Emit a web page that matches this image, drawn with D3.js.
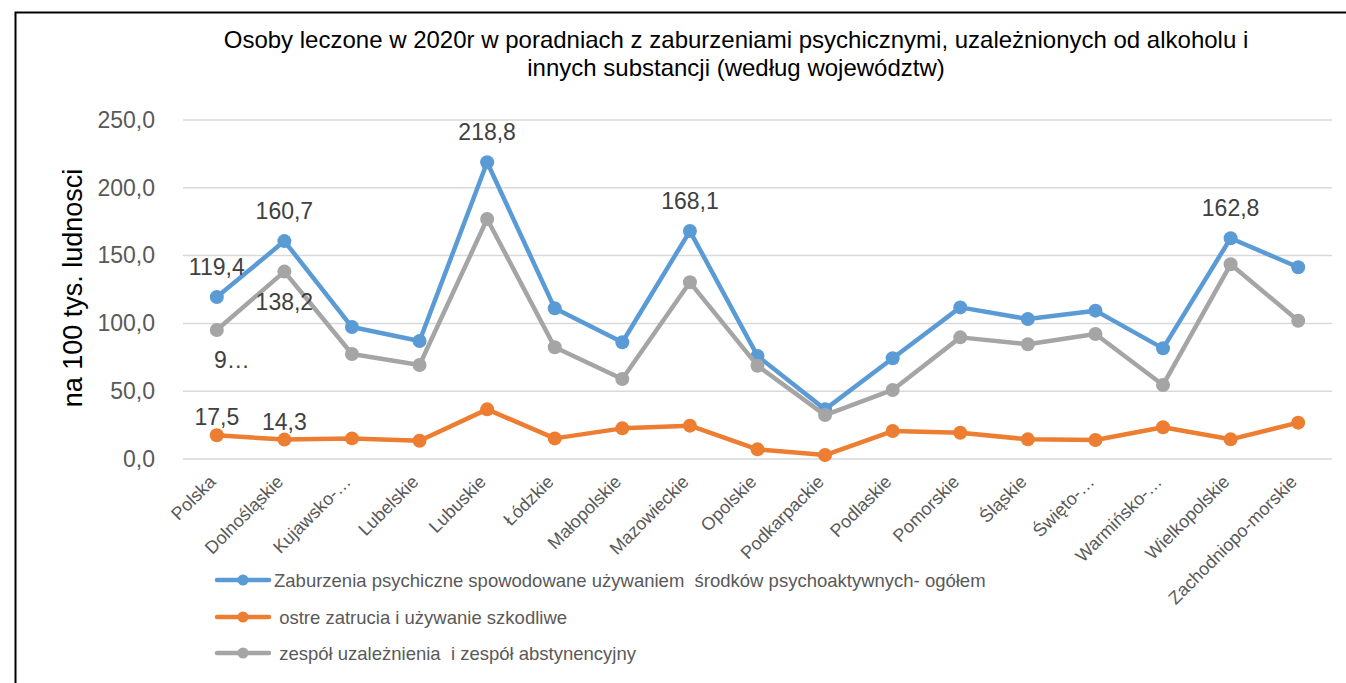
<!DOCTYPE html>
<html>
<head>
<meta charset="utf-8">
<script src="https://cdn.jsdelivr.net/npm/d3@7"></script>
<style>
  body { margin: 0; background: #fff; }
  svg { display: block; font-family: Arial, "Liberation Sans", sans-serif; }
</style>
</head>
<body>
<div class="container"></div>
<script>
const categories = ["Polska", "Dolnośląskie", "Kujawsko-…", "Lubelskie", "Lubuskie", "Łódzkie",
  "Małopolskie", "Mazowieckie", "Opolskie", "Podkarpackie", "Podlaskie", "Pomorskie",
  "Śląskie", "Święto-…", "Warmińsko-…", "Wielkopolskie", "Zachodniopo-morskie"];

const ogolem = [119.4, 160.7, 97.3, 87.0, 218.8, 111.1, 86.1, 168.1, 76.0, 36.6, 74.3, 111.8, 103.2, 109.4, 81.6, 162.8, 141.4];
const ostre = [17.5, 14.3, 15.2, 13.5, 36.6, 15.2, 22.6, 24.6, 7.1, 2.9, 20.6, 19.4, 14.5, 14.0, 23.4, 14.5, 26.8];
const zespol = [95.1, 138.2, 77.4, 69.3, 177.0, 82.4, 59.0, 130.3, 68.8, 32.4, 50.9, 89.7, 84.6, 92.2, 54.6, 143.6, 102.0];

const yTicks = [0, 50, 100, 150, 200, 250];

const seriesNames = [
  "Zaburzenia psychiczne spowodowane używaniem  środków psychoaktywnych- ogółem",
  " ostre zatrucia i używanie szkodliwe",
  " zespół uzależnienia  i zespół abstynencyjny"
];

// which points get a data label: [series index, category index, text, side]
const dataLabels = [
  [0, 0, "119,4", "up"], [0, 1, "160,7", "up"], [0, 4, "218,8", "up"],
  [0, 7, "168,1", "up"], [0, 15, "162,8", "up"],
  [2, 1, "138,2", "down"], [2, 0, "9…", "down"],
  [1, 0, "17,5", "up2"], [1, 1, "14,3", "up2"]
];

const colors = ["#5B9BD5", "#ED7D31", "#A5A5A5"];
const allSeries = [ogolem, ostre, zespol];
const w = 1346, h = 683;

const svg = d3.select(".container").append("svg")
  .attr("width", w).attr("height", h);

svg.append("rect").attr("width", w).attr("height", h).attr("fill", "#fff");

// chart border (top & left visible)
svg.append("path")
  .attr("d", "M15.5," + h + "V12.5H" + w)
  .attr("fill", "none").attr("stroke", "#000").attr("stroke-width", 2);

const x = d3.scaleBand().domain(categories).range([183, 1332]);
const y = d3.scaleLinear().domain([0, 250]).range([459, 120]);
const cx = d => x(d) + x.bandwidth() / 2;

// gridlines
svg.append("g").selectAll("line").data(yTicks).enter().append("line")
  .attr("x1", 183).attr("x2", 1332)
  .attr("y1", d => y(d)).attr("y2", d => y(d))
  .attr("stroke", "#D9D9D9").attr("stroke-width", 1.5);

// y axis labels
const yAxis = d3.axisLeft(y).tickValues(yTicks).tickSize(0).tickPadding(0)
  .tickFormat(d => d3.format(".1f")(d).replace(".", ","));
const yg = svg.append("g").attr("transform", "translate(155,0)").call(yAxis);
yg.select(".domain").remove();
yg.selectAll("text").attr("font-size", 23).attr("fill", "#595959")
  .attr("font-family", "Arial, 'Liberation Sans', sans-serif");

// x axis labels
const xAxis = d3.axisBottom(x).tickSize(0).tickPadding(0);
const xg = svg.append("g").attr("transform", "translate(0,459)").call(xAxis);
xg.select(".domain").remove();
xg.selectAll("text")
  .attr("font-size", 18).attr("fill", "#595959")
  .attr("font-family", "Arial, 'Liberation Sans', sans-serif")
  .attr("text-anchor", "end")
  .attr("dy", 0).attr("y", 0)
  .attr("transform", "translate(0,24) rotate(-45)");

// lines
const line = d3.line().x((d, i) => cx(categories[i])).y(d => y(d));
[0, 1, 2].forEach(s => {
  const g = svg.append("g");
  g.append("path").datum(allSeries[s])
    .attr("d", line).attr("fill", "none")
    .attr("stroke", colors[s]).attr("stroke-width", 4.5)
    .attr("stroke-linejoin", "round");
  g.selectAll("circle").data(allSeries[s]).enter().append("circle")
    .attr("cx", (d, i) => cx(categories[i])).attr("cy", d => y(d))
    .attr("r", 7).attr("fill", colors[s]);
});

// data labels
svg.append("g").selectAll("text").data(dataLabels).enter().append("text")
  .attr("x", d => cx(categories[d[1]]) + (d[2] === "9…" ? 15 : 0))
  .attr("y", d => {
    const py = y(allSeries[d[0]][d[1]]);
    if (d[3] === "up") return py - 22;
    if (d[3] === "up2") return py - 10;
    return py + 38;
  })
  .attr("text-anchor", "middle")
  .attr("font-size", 23).attr("fill", "#404040")
  .text(d => d[2]);

// y axis title
svg.append("text")
  .attr("transform", "translate(82,288) rotate(-90)")
  .attr("text-anchor", "middle")
  .attr("font-size", 27).attr("fill", "#000")
  .text("na 100 tys. ludnosci");

// title
const title = svg.append("text").attr("text-anchor", "middle")
  .attr("font-size", 24).attr("fill", "#000");
title.append("tspan").attr("x", 736).attr("y", 48)
  .text("Osoby leczone w 2020r w poradniach z zaburzeniami psychicznymi, uzależnionych od alkoholu i");
title.append("tspan").attr("x", 736).attr("y", 76)
  .text("innych substancji (według województw)");

// legend
const legendY = [580, 617, 653];
const lg = svg.append("g").selectAll("g").data(seriesNames).enter().append("g")
  .attr("transform", (d, i) => "translate(0," + legendY[i] + ")");
lg.append("line").attr("x1", 217).attr("x2", 269)
  .attr("stroke", (d, i) => colors[i]).attr("stroke-width", 4.5)
  .attr("stroke-linecap", "round");
lg.append("circle").attr("cx", 243).attr("r", 5.5).attr("fill", (d, i) => colors[i]);
lg.append("text").attr("x", 274).attr("y", 7)
  .attr("font-size", 18.5).attr("fill", "#595959")
  .attr("xml:space", "preserve").style("white-space", "pre")
  .text(d => d);
</script>
</body>
</html>
